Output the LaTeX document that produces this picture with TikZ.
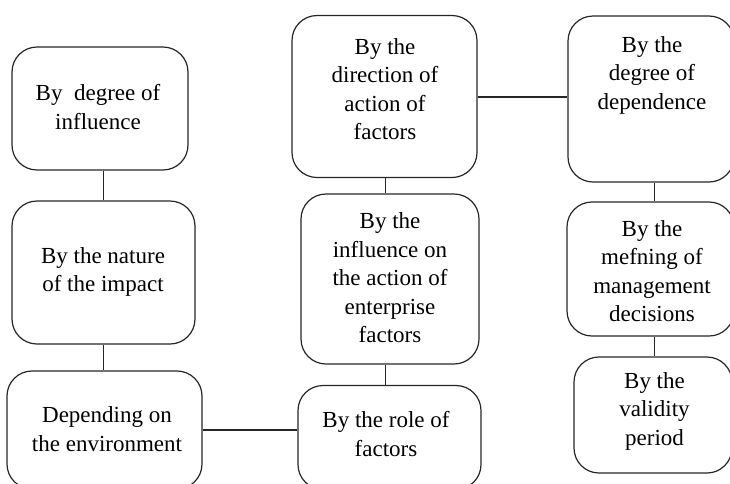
\documentclass[tikz,border=0pt]{standalone}
\usepackage{fontspec}
\setmainfont{Liberation Serif}
\begin{document}
\begin{tikzpicture}[x=1pt,y=-1pt,
  box/.style={draw=black!85, line width=1.2pt, rounded corners=25pt, minimum width=#1, inner sep=0pt},
  lbl/.style={align=center, inner sep=0pt, font=\fontsize{23}{28.5}\selectfont, text=black},
  link/.style={draw=black!85, line width=1.2pt}]
\useasboundingbox (0,0) rectangle (730,483);
% boxes
\node[box=176pt, minimum height=123pt] (A) at (100,108.5) {};
\node[box=183pt, minimum height=143pt] (B) at (103.5,272.5) {};
\node[box=195pt, minimum height=118pt] (C) at (104.5,430) {};
\node[box=185pt, minimum height=162pt] (D) at (384.5,96.5) {};
\node[box=166pt, minimum height=166pt] (E) at (651,99) {};
\node[box=178pt, minimum height=170pt] (F) at (390,279) {};
\node[box=183pt, minimum height=104pt] (G) at (389.5,437.5) {};
\node[box=167pt, minimum height=134pt] (H) at (650.5,269) {};
\node[box=158pt, minimum height=116pt] (I) at (653,415) {};
% texts
\node[lbl] (tA) at (98,107) {By\ \ degree of\\influence};
\node[lbl] (tB) at (103,272) {By the nature\\of the impact};
\node[lbl] (tC) at (107,429) {Depending on\\the environment};
\node[lbl] (tD) at (385,89) {By the\\direction of\\action of\\factors};
\node[lbl] (tE) at (652,75) {By the\\degree of\\dependence};
\node[lbl] (tF) at (390,278) {By the\\influence on\\the action of\\enterprise\\factors};
\node[lbl] (tG) at (386,434) {By the role of\\factors};
\node[lbl] (tH) at (652,271) {By the\\mefning of\\management\\decisions};
\node[lbl] (tI) at (654.5,411) {By the\\validity\\period};
% connector columns
\coordinate (colL) at (103.7,0);
\coordinate (colM) at (385.3,0);
\coordinate (colR) at (654.5,0);
\coordinate (rowT) at (0,97);
\draw[link] (A.south -| colL) -- (B.north -| colL);
\draw[link] (B.south -| colL) -- (C.north -| colL);
\draw[link] (D.south -| colM) -- (F.north -| colM);
\draw[link] (F.south -| colM) -- (G.north -| colM);
\draw[link] (E.south -| colR) -- (H.north -| colR);
\draw[link] (H.south -| colR) -- (I.north -| colR);
\draw[link] (D.east |- rowT) -- (E.west |- rowT);
\draw[link] (C.east) -- (C.east -| G.west);
\end{tikzpicture}
\end{document}
